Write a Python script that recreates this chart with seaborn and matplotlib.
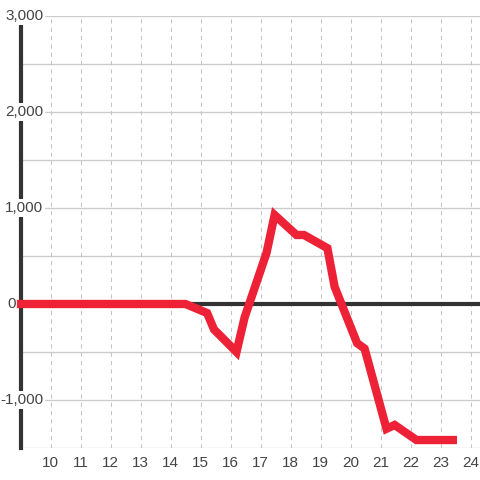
import matplotlib
matplotlib.use("Agg")
import matplotlib.pyplot as plt
import matplotlib.transforms as mtransforms
import seaborn as sns
import pandas as pd

# ---- data ----
hours = [8.88, 14.5, 15.22, 15.45, 16.2, 16.47, 17.2, 17.47, 18.2, 18.45,
         19.23, 19.47, 20.22, 20.47, 21.2, 21.47, 22.2, 23.55]
values = [0, 0, -94, -265, -500, -140, 531, 927, 719, 719,
          582, 180, -408, -465, -1300, -1260, -1417, -1417]
x_ticks = list(range(10, 25))
x_tick_labels = [str(v) for v in x_ticks]
y_label_values = [3000, 2000, 1000, 0, -1000]
y_label_texts = ["3,000", "2,000", "1,000", "0", "-1,000"]
y_grid_values = [-1500, -1000, -500, 0, 500, 1000, 1500, 2000, 2500, 3000]

df = pd.DataFrame({"hour": hours, "value": values})

sns.set_style("white")
plt.rcParams["font.family"] = ["Liberation Sans", "DejaVu Sans"]

fig = plt.figure(figsize=(4.8, 4.8), dpi=100)
fig.patch.set_facecolor("white")
ax = fig.add_axes([20.5 / 480, 32 / 480, 459.5 / 480, 432 / 480])
ax.set_facecolor("white")

ax.set_xlim(9, 9 + 459.5 / 30)
ax.set_ylim(-1500, 3000)

# grid
for yv in y_grid_values:
    ax.axhline(yv, color="#cccccc", lw=1.0, zorder=1)
for xv in x_ticks:
    ax.axvline(xv, color="#c4c4c4", lw=0.75, ls=(0, (4, 4)), zorder=1)

# zero line
ax.axhline(0, color="#333333", lw=3, zorder=3)

# data line
sns.lineplot(data=df, x="hour", y="value", ax=ax, color="#ee2237",
             linewidth=6, zorder=5, clip_on=False, sort=False)
for ln in ax.lines:
    ln.set_solid_capstyle("butt")
    ln.set_solid_joinstyle("miter")

# spines
for s in ["top", "right", "bottom"]:
    ax.spines[s].set_visible(False)
ax.spines["left"].set_color("#333333")
ax.spines["left"].set_linewidth(3)
ax.spines["left"].set_zorder(2.5)

# ticks
ax.set_xticks(x_ticks)
ax.set_xticklabels(x_tick_labels, fontsize=11, color="#444444")
ax.tick_params(axis="x", length=0, pad=6)
ax.set_yticks([])
ax.set_xlabel("")
ax.set_ylabel("")

# y labels with white background
trans = mtransforms.blended_transform_factory(ax.transAxes, ax.transData)
for yv, txt in zip(y_label_values, y_label_texts):
    xpos = (15.5 - 20.5) / 459.5 if yv == 0 else (43.5 - 20.5) / 459.5
    ax.text(xpos, yv, txt, transform=trans, ha="right", va="center",
            fontsize=11, color="#444444", zorder=4, clip_on=False,
            bbox=dict(boxstyle="square,pad=0.1", fc="white", ec="none"))

fig.savefig("out.png", dpi=100, facecolor="white")
